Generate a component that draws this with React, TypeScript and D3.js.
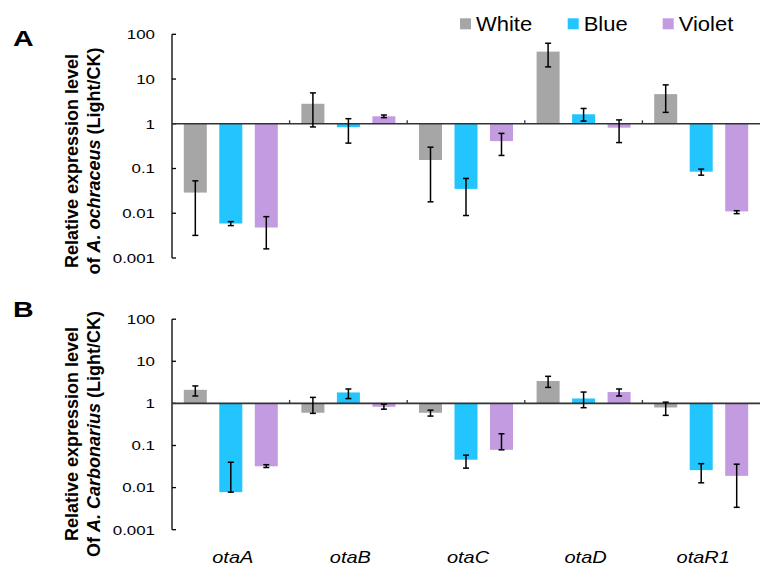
import * as d3 from 'd3';

const genes = ['otaA', 'otaB', 'otaC', 'otaD', 'otaR1'];
const seriesNames = ['White', 'Blue', 'Violet'];
const seriesColors = ['#a6a6a6', '#22c5fd', '#c29be0'];
const tickValues = [100, 10, 1, 0.1, 0.01, 0.001];
const tickLabels = ['100', '10', '1', '0.1', '0.01', '0.001'];

// panel A: A. ochraceus
const aMean = [
  [0.029, 2.8, 0.155, 41, 4.6],
  [0.0059, 0.84, 0.035, 1.63, 0.085],
  [0.0048, 1.47, 0.41, 0.82, 0.011],
];
const aHigh = [
  [0.053, 4.9, 0.3, 63, 7.4],
  [0.0065, 1.3, 0.06, 2.2, 0.097],
  [0.0084, 1.57, 0.61, 1.22, 0.0114],
];
const aLow = [
  [0.0032, 0.85, 0.018, 18.7, 1.8],
  [0.0053, 0.37, 0.0089, 1.15, 0.071],
  [0.0016, 1.37, 0.196, 0.38, 0.0098],
];

// panel B: A. carbonarius
const bMean = [
  [2.1, 0.6, 0.6, 3.4, 0.8],
  [0.0078, 1.82, 0.046, 1.31, 0.026],
  [0.032, 0.83, 0.079, 1.86, 0.019],
];
const bHigh = [
  [2.6, 1.39, 0.69, 4.4, 1.07],
  [0.04, 2.2, 0.059, 1.86, 0.037],
  [0.035, 0.96, 0.19, 2.2, 0.036],
];
const bLow = [
  [1.5, 0.58, 0.5, 2.4, 0.52],
  [0.0078, 1.3, 0.029, 0.79, 0.013],
  [0.03, 0.73, 0.079, 1.5, 0.0034],
];

const FONT = '"Liberation Sans", Arial, sans-serif';
const X0 = 172;
const X1 = 760;

const xCat = d3.scaleBand<string>().domain(genes).range([X0, X1]).padding(0);
const xSer = d3
  .scaleBand<string>()
  .domain(seriesNames)
  .range([0, xCat.bandwidth()])
  .paddingInner(0.352)
  .paddingOuter(0.3325);

// stretched horizontal text (the source figure is a bit wide)
function SText({ x, y, sx, anchor = 'start', size, weight = 'normal', italic = false, children }: any) {
  return (
    <g transform={`translate(${x},${y}) scale(${sx},1)`}>
      <text
        x={0}
        y={0}
        textAnchor={anchor}
        fontSize={size}
        fontWeight={weight}
        fontStyle={italic ? 'italic' : 'normal'}
        fontFamily={FONT}
        fill="#000"
      >
        {children}
      </text>
    </g>
  );
}

function Panel({ top, bottom, mean, high, low, letter, letterY, titleY, species, ofWord, showGenes }: any) {
  const y = d3.scaleLog().domain([0.001, 100]).range([bottom, top]);
  const base = y(1);
  return (
    <g>
      <SText x={13} y={letterY} sx={1.3} size={22} weight="bold">{letter}</SText>

      {/* y axis title */}
      <g transform={`translate(78,${titleY}) rotate(-90)`}>
        <text textAnchor="middle" fontSize={18} fontWeight="bold" fontFamily={FONT}>
          Relative expression level
        </text>
      </g>
      <g transform={`translate(100,${titleY}) rotate(-90)`}>
        <text textAnchor="middle" fontSize={18} fontWeight="bold" fontFamily={FONT}>
          {ofWord} <tspan fontStyle="italic">{species}</tspan> (Light/CK)
        </text>
      </g>

      {/* bars */}
      {seriesNames.map((s, si) =>
        genes.map((g, gi) => {
          const v = mean[si][gi];
          const bx = xCat(g)! + xSer(s)!;
          const yv = y(v);
          return (
            <rect
              key={s + g}
              x={bx}
              y={Math.min(yv, base)}
              width={xSer.bandwidth()}
              height={Math.abs(yv - base)}
              fill={seriesColors[si]}
            />
          );
        })
      )}

      {/* y axis */}
      <line x1={X0} x2={X0} y1={y(100)} y2={y(0.001)} stroke="#000" strokeWidth={1.3} />
      {tickValues.map((t, i) => (
        <g key={t}>
          <line x1={X0} x2={X0 + 4} y1={y(t)} y2={y(t)} stroke="#000" strokeWidth={1.3} />
          <SText x={155} y={y(t) + 4.8} sx={1.25} anchor="end" size={13.5}>
            {tickLabels[i]}
          </SText>
        </g>
      ))}

      {/* baseline at 1 */}
      <line x1={X0} x2={X1} y1={base} y2={base} stroke="#333" strokeWidth={1.6} />
      {genes.slice(1).map((g) => (
        <line key={g} x1={xCat(g)!} x2={xCat(g)!} y1={base} y2={base - 3.5} stroke="#333" strokeWidth={1.3} />
      ))}

      {/* error bars */}
      {seriesNames.map((s, si) =>
        genes.map((g, gi) => {
          const cx = xCat(g)! + xSer(s)! + xSer.bandwidth() / 2;
          const yh = y(high[si][gi]);
          const yl = y(low[si][gi]);
          return (
            <g key={'e' + s + g} stroke="#000" strokeWidth={1.5}>
              <line x1={cx} x2={cx} y1={yh} y2={yl} />
              <line x1={cx - 3} x2={cx + 3} y1={yh} y2={yh} />
              <line x1={cx - 3} x2={cx + 3} y1={yl} y2={yl} />
            </g>
          );
        })
      )}

      {showGenes &&
        genes.map((g) => (
          <SText key={g} x={xCat(g)! + xCat.bandwidth() / 2 + 2} y={562.5} sx={1.19} anchor="middle" size={16.8} italic>
            {g}
          </SText>
        ))}
    </g>
  );
}

export default function App() {
  const legendX = [460, 567.7, 662.7];
  return (
    <svg
      width={775}
      height={580}
      viewBox="0 0 775 580"
      style={{ position: 'absolute', left: 0, top: 0, background: '#fff' }}
    >
      <rect width={775} height={580} fill="#fff" />
      <Panel
        top={34.3}
        bottom={258}
        mean={aMean}
        high={aHigh}
        low={aLow}
        letter="A"
        letterY={45.7}
        titleY={161}
        ofWord="of"
        species="A. ochraceus"
        showGenes={false}
      />
      <Panel
        top={319.2}
        bottom={529.7}
        mean={bMean}
        high={bHigh}
        low={bLow}
        letter="B"
        letterY={317.3}
        titleY={434}
        ofWord="Of"
        species="A. Carbonarius"
        showGenes={true}
      />
      {seriesNames.map((s, i) => (
        <g key={s}>
          <rect x={legendX[i]} y={18.3} width={11} height={11} fill={seriesColors[i]} />
          <SText x={legendX[i] + 16} y={31} sx={1.1} size={20}>
            {s}
          </SText>
        </g>
      ))}
    </svg>
  );
}
